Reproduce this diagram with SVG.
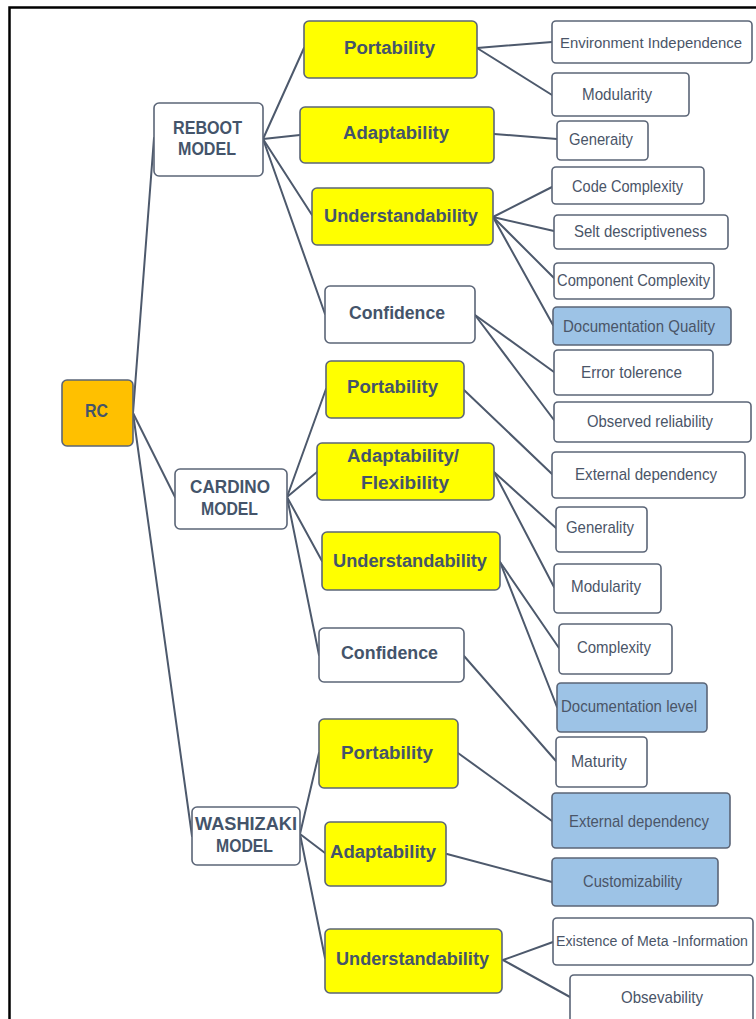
<svg xmlns="http://www.w3.org/2000/svg" width="756" height="1019" viewBox="0 0 756 1019">
<style>
.box{stroke:#5B6577;stroke-width:1.6}
.w{fill:#FFFFFF}
.y{fill:#FFFF00}
.o{fill:#FFC000}
.b{fill:#9DC3E6}
.t{font-family:"Liberation Sans",Arial,sans-serif;font-weight:bold;font-size:18px;fill:#44546A;text-anchor:start}
.l{font-family:"Liberation Sans",Arial,sans-serif;font-size:17px;fill:#4A5568;text-anchor:start}
.c line{stroke:#4D596C;stroke-width:2;stroke-linecap:round}
</style>
<rect width="756" height="1019" fill="#FFFFFF"/>
<path d="M9.5,1019 V7.5 H756" fill="none" stroke="#000000" stroke-width="2.5"/>
<g class="c" id="connectors">
<line x1="133" y1="413" x2="154" y2="138"/>
<line x1="133" y1="413" x2="175" y2="497"/>
<line x1="133" y1="413" x2="192" y2="836"/>
<line x1="263" y1="139" x2="304" y2="48"/>
<line x1="263" y1="139" x2="300" y2="135"/>
<line x1="263" y1="139" x2="312" y2="215"/>
<line x1="263" y1="139" x2="325" y2="314"/>
<line x1="477" y1="48" x2="552" y2="42"/>
<line x1="477" y1="48" x2="552" y2="95"/>
<line x1="494" y1="134" x2="557" y2="139"/>
<line x1="493" y1="217" x2="552" y2="187"/>
<line x1="493" y1="217" x2="554" y2="231"/>
<line x1="493" y1="217" x2="554" y2="278"/>
<line x1="493" y1="217" x2="553" y2="325"/>
<line x1="475" y1="315" x2="554" y2="372"/>
<line x1="475" y1="315" x2="554" y2="420"/>
<line x1="287" y1="497" x2="326" y2="389"/>
<line x1="287" y1="497" x2="317" y2="472"/>
<line x1="287" y1="497" x2="322" y2="561"/>
<line x1="287" y1="497" x2="319" y2="655"/>
<line x1="464" y1="390" x2="552" y2="474"/>
<line x1="494" y1="472" x2="556" y2="528"/>
<line x1="494" y1="472" x2="554" y2="587"/>
<line x1="500" y1="562" x2="559" y2="648"/>
<line x1="500" y1="562" x2="557" y2="707"/>
<line x1="464" y1="656" x2="556" y2="761"/>
<line x1="300" y1="834" x2="319" y2="753"/>
<line x1="300" y1="834" x2="325" y2="853"/>
<line x1="300" y1="834" x2="325" y2="958"/>
<line x1="458" y1="753" x2="552" y2="821"/>
<line x1="447" y1="854" x2="552" y2="882"/>
<line x1="503" y1="960" x2="553" y2="942"/>
<line x1="503" y1="960" x2="570" y2="997"/>
</g>
<g id="rc"><rect class="box o" x="62" y="380" width="71" height="66" rx="5"/><text class="t" x="85" y="417" textLength="23" lengthAdjust="spacingAndGlyphs">RC</text></g>
<g id="reboot"><rect class="box w" x="154" y="103" width="109" height="73" rx="5"/><text class="t" x="173" y="134" textLength="69" lengthAdjust="spacingAndGlyphs">REBOOT</text><text class="t" x="178" y="155" textLength="58" lengthAdjust="spacingAndGlyphs">MODEL</text></g>
<g id="cardino"><rect class="box w" x="175" y="469" width="112" height="60" rx="5"/><text class="t" x="190" y="493" textLength="80" lengthAdjust="spacingAndGlyphs">CARDINO</text><text class="t" x="201" y="515" textLength="57" lengthAdjust="spacingAndGlyphs">MODEL</text></g>
<g id="washizaki"><rect class="box w" x="192" y="807" width="108" height="58" rx="5"/><text class="t" x="195" y="830" textLength="102" lengthAdjust="spacingAndGlyphs">WASHIZAKI</text><text class="t" x="216" y="852" textLength="57" lengthAdjust="spacingAndGlyphs">MODEL</text></g>

<g id="r-port"><rect class="box y" x="304" y="21" width="173" height="57" rx="5"/><text class="t" x="344" y="54" textLength="91" lengthAdjust="spacingAndGlyphs">Portability</text></g>
<g id="r-adapt"><rect class="box y" x="300" y="107" width="194" height="56" rx="5"/><text class="t" x="343" y="139" textLength="106" lengthAdjust="spacingAndGlyphs">Adaptability</text></g>
<g id="r-under"><rect class="box y" x="312" y="188" width="181" height="57" rx="5"/><text class="t" x="324" y="222" textLength="154" lengthAdjust="spacingAndGlyphs">Understandability</text></g>
<g id="r-conf"><rect class="box w" x="325" y="286" width="150" height="57" rx="5"/><text class="t" x="349" y="319" textLength="96" lengthAdjust="spacingAndGlyphs">Confidence</text></g>

<g id="c-port"><rect class="box y" x="326" y="361" width="138" height="57" rx="5"/><text class="t" x="347" y="393" textLength="91" lengthAdjust="spacingAndGlyphs">Portability</text></g>
<g id="c-adapt"><rect class="box y" x="317" y="443" width="177" height="57" rx="5"/><text class="t" x="347" y="462" textLength="112" lengthAdjust="spacingAndGlyphs">Adaptability/</text><text class="t" x="361" y="489" textLength="88" lengthAdjust="spacingAndGlyphs">Flexibility</text></g>
<g id="c-under"><rect class="box y" x="322" y="532" width="178" height="58" rx="5"/><text class="t" x="333" y="567" textLength="154" lengthAdjust="spacingAndGlyphs">Understandability</text></g>
<g id="c-conf"><rect class="box w" x="319" y="628" width="145" height="54" rx="5"/><text class="t" x="341" y="659" textLength="97" lengthAdjust="spacingAndGlyphs">Confidence</text></g>

<g id="w-port"><rect class="box y" x="319" y="719" width="139" height="69" rx="5"/><text class="t" x="341" y="759" textLength="92" lengthAdjust="spacingAndGlyphs">Portability</text></g>
<g id="w-adapt"><rect class="box y" x="325" y="822" width="121" height="64" rx="5"/><text class="t" x="330" y="858" textLength="106" lengthAdjust="spacingAndGlyphs">Adaptability</text></g>
<g id="w-under"><rect class="box y" x="325" y="929" width="177" height="64" rx="5"/><text class="t" x="336" y="965" textLength="153" lengthAdjust="spacingAndGlyphs">Understandability</text></g>

<g id="l-envind"><rect class="box w" x="552" y="21" width="200" height="42" rx="4"/><text class="l" x="560" y="48" style="font-size:15px" textLength="182" lengthAdjust="spacingAndGlyphs">Environment Independence</text></g>
<g id="l-mod1"><rect class="box w" x="552" y="73" width="137" height="43" rx="4"/><text class="l" x="582" y="100" textLength="70" lengthAdjust="spacingAndGlyphs">Modularity</text></g>
<g id="l-generaity"><rect class="box w" x="557" y="121" width="91" height="39" rx="4"/><text class="l" x="569" y="145" textLength="64" lengthAdjust="spacingAndGlyphs">Generaity</text></g>
<g id="l-codecx"><rect class="box w" x="552" y="167" width="152" height="37" rx="4"/><text class="l" x="572" y="192" textLength="111" lengthAdjust="spacingAndGlyphs">Code Complexity</text></g>
<g id="l-selt"><rect class="box w" x="554" y="215" width="174" height="34" rx="4"/><text class="l" x="574" y="237" textLength="133" lengthAdjust="spacingAndGlyphs">Selt descriptiveness</text></g>
<g id="l-compcx"><rect class="box w" x="554" y="263" width="160" height="36" rx="4"/><text class="l" x="557" y="286" textLength="153" lengthAdjust="spacingAndGlyphs">Component Complexity</text></g>
<g id="l-docq"><rect class="box b" x="553" y="307" width="178" height="38" rx="4"/><text class="l" x="563" y="332" textLength="152" lengthAdjust="spacingAndGlyphs">Documentation Quality</text></g>
<g id="l-errtol"><rect class="box w" x="554" y="350" width="159" height="45" rx="4"/><text class="l" x="581" y="378" textLength="101" lengthAdjust="spacingAndGlyphs">Error tolerence</text></g>
<g id="l-obsrel"><rect class="box w" x="554" y="402" width="197" height="40" rx="4"/><text class="l" x="587" y="427" textLength="126" lengthAdjust="spacingAndGlyphs">Observed reliability</text></g>
<g id="l-extdep1"><rect class="box w" x="552" y="452" width="193" height="46" rx="4"/><text class="l" x="575" y="480" textLength="142" lengthAdjust="spacingAndGlyphs">External dependency</text></g>
<g id="l-generality"><rect class="box w" x="556" y="507" width="91" height="45" rx="4"/><text class="l" x="566" y="533" textLength="68" lengthAdjust="spacingAndGlyphs">Generality</text></g>
<g id="l-mod2"><rect class="box w" x="554" y="564" width="107" height="49" rx="4"/><text class="l" x="571" y="592" textLength="70" lengthAdjust="spacingAndGlyphs">Modularity</text></g>
<g id="l-complexity"><rect class="box w" x="559" y="624" width="113" height="50" rx="4"/><text class="l" x="577" y="653" textLength="74" lengthAdjust="spacingAndGlyphs">Complexity</text></g>
<g id="l-doclevel"><rect class="box b" x="557" y="683" width="150" height="49" rx="4"/><text class="l" x="561" y="712" textLength="136" lengthAdjust="spacingAndGlyphs">Documentation level</text></g>
<g id="l-maturity"><rect class="box w" x="556" y="737" width="91" height="50" rx="4"/><text class="l" x="571" y="767" textLength="56" lengthAdjust="spacingAndGlyphs">Maturity</text></g>
<g id="l-extdep2"><rect class="box b" x="552" y="793" width="178" height="55" rx="4"/><text class="l" x="569" y="827" textLength="140" lengthAdjust="spacingAndGlyphs">External dependency</text></g>
<g id="l-custom"><rect class="box b" x="552" y="858" width="166" height="48" rx="4"/><text class="l" x="583" y="887" textLength="99" lengthAdjust="spacingAndGlyphs">Customizability</text></g>
<g id="l-meta"><rect class="box w" x="553" y="918" width="200" height="47" rx="4"/><text class="l" x="556" y="946" style="font-size:14px" textLength="192" lengthAdjust="spacingAndGlyphs">Existence of Meta -Information</text></g>
<g id="l-obsev"><rect class="box w" x="570" y="975" width="183" height="50" rx="4"/><text class="l" x="621" y="1003" textLength="82" lengthAdjust="spacingAndGlyphs">Obsevability</text></g>
</svg>
